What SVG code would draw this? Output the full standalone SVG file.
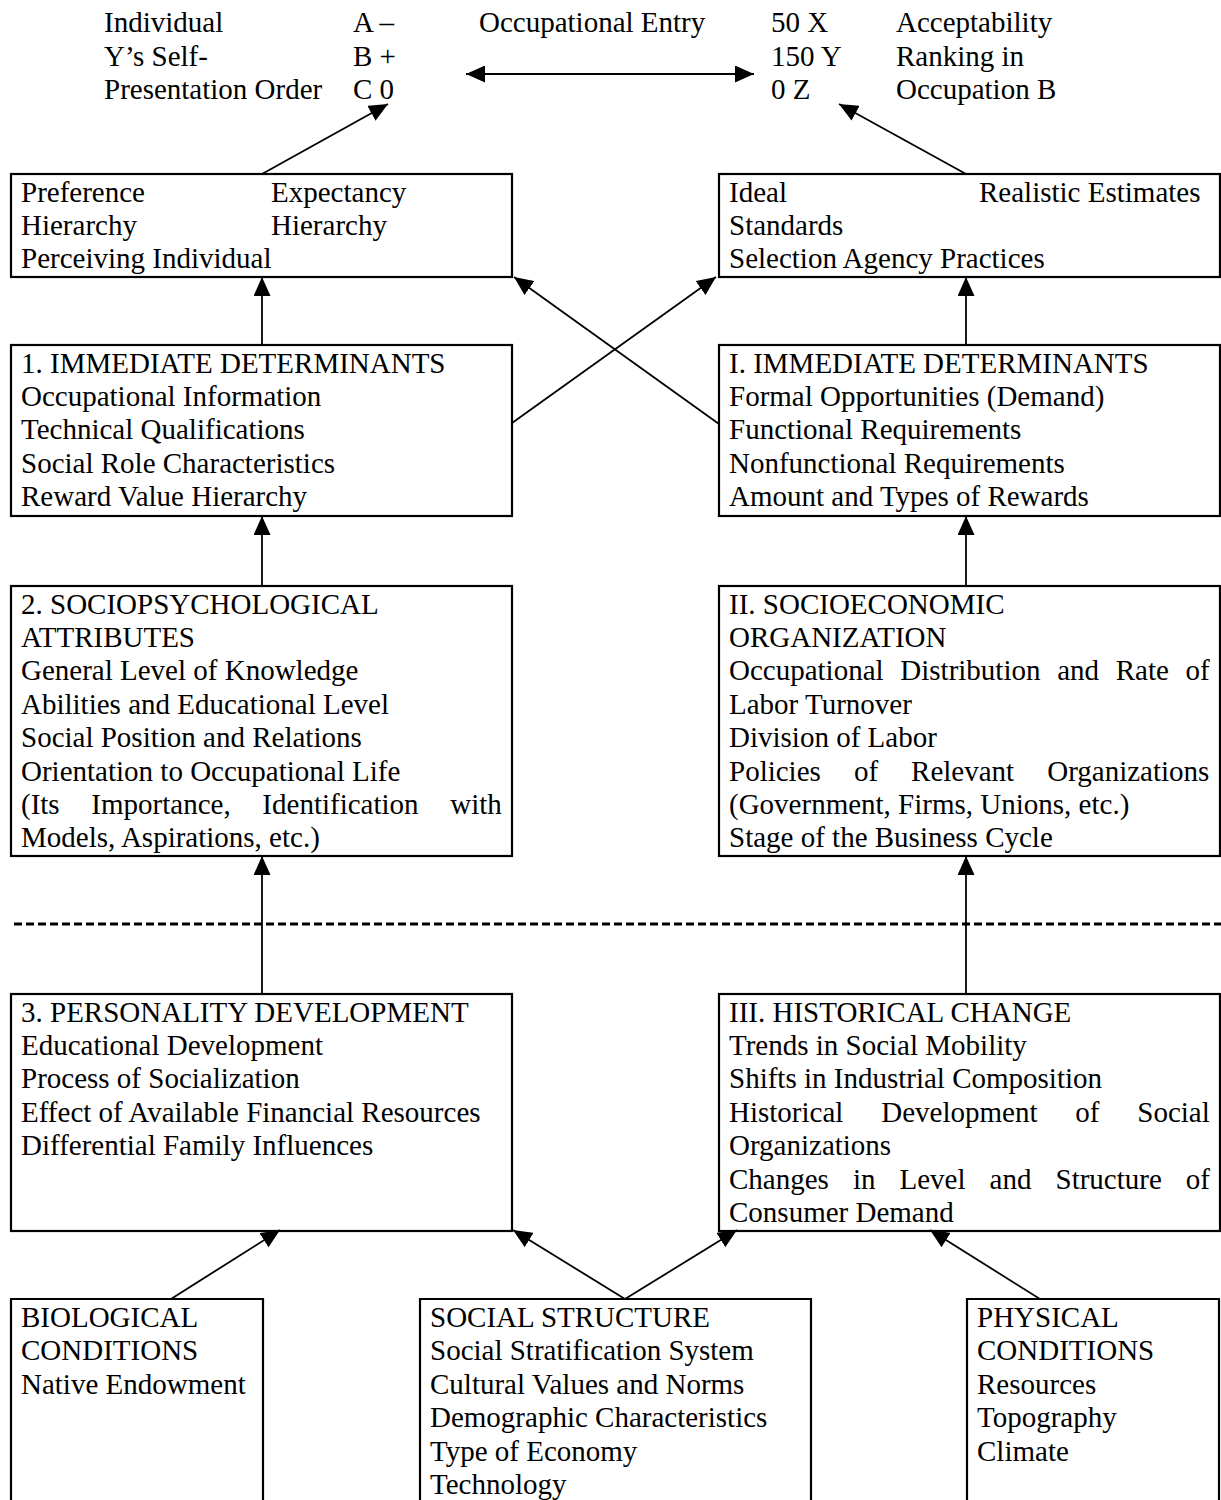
<svg xmlns="http://www.w3.org/2000/svg" width="1221" height="1500" viewBox="0 0 1221 1500">
<style>
text{font-family:"Liberation Serif","Times New Roman",serif;font-size:29px;fill:#000}
.box{fill:none;stroke:#000;stroke-width:2.2}
.con line{stroke:#000;stroke-width:1.8}
</style>
<defs>
<marker id="ah" viewBox="0 0 19 17" refX="19" refY="8.5" markerWidth="19" markerHeight="17" markerUnits="userSpaceOnUse" orient="auto-start-reverse">
<path d="M0,0 L19,8.5 L0,17 z" fill="#000"/>
</marker>
</defs>
<rect width="1221" height="1500" fill="#fff"/>

<g id="header">
<text x="104" y="32">Individual</text>
<text x="104" y="65.5">Y’s Self-</text>
<text x="104" y="99">Presentation Order</text>
<text x="353" y="32">A –</text>
<text x="353" y="65.5">B +</text>
<text x="353" y="99">C 0</text>
<text x="479" y="32">Occupational Entry</text>
<text x="771" y="32">50 X</text>
<text x="771" y="65.5">150 Y</text>
<text x="771" y="99">0 Z</text>
<text x="896" y="32">Acceptability</text>
<text x="896" y="65.5">Ranking in</text>
<text x="896" y="99">Occupation B</text>
</g>

<g id="preference">
<rect class="box" x="11" y="174" width="501" height="103"/>
<text x="21" y="201.5">Preference</text>
<text x="271" y="201.5">Expectancy</text>
<text x="21" y="234.5">Hierarchy</text>
<text x="271" y="234.5">Hierarchy</text>
<text x="21" y="267.5">Perceiving Individual</text>
</g>

<g id="ideal">
<rect class="box" x="719" y="174" width="501" height="103"/>
<text x="729" y="201.5">Ideal</text>
<text x="979" y="201.5">Realistic Estimates</text>
<text x="729" y="234.5">Standards</text>
<text x="729" y="267.5">Selection Agency Practices</text>
</g>

<g id="immediate-left">
<rect class="box" x="11" y="345" width="501" height="171"/>
<text x="21" y="372.5">1. IMMEDIATE DETERMINANTS</text>
<text x="21" y="405.9">Occupational Information</text>
<text x="21" y="439.3">Technical Qualifications</text>
<text x="21" y="472.7">Social Role Characteristics</text>
<text x="21" y="506.1">Reward Value Hierarchy</text>
</g>

<g id="immediate-right">
<rect class="box" x="719" y="345" width="501" height="171"/>
<text x="729" y="372.5">I. IMMEDIATE DETERMINANTS</text>
<text x="729" y="405.9">Formal Opportunities (Demand)</text>
<text x="729" y="439.3">Functional Requirements</text>
<text x="729" y="472.7">Nonfunctional Requirements</text>
<text x="729" y="506.1">Amount and Types of Rewards</text>
</g>

<g id="sociopsych">
<rect class="box" x="11" y="586" width="501" height="270"/>
<text x="21" y="613.5">2. SOCIOPSYCHOLOGICAL</text>
<text x="21" y="646.9">ATTRIBUTES</text>
<text x="21" y="680.3">General Level of Knowledge</text>
<text x="21" y="713.7">Abilities and Educational Level</text>
<text x="21" y="747.1">Social Position and Relations</text>
<text x="21" y="780.5">Orientation to Occupational Life</text>
<text x="21" y="813.9" style="word-spacing:24.45px">(Its Importance, Identification with</text>
<text x="21" y="847.3">Models, Aspirations, etc.)</text>
</g>

<g id="socioeconomic">
<rect class="box" x="719" y="586" width="501" height="270"/>
<text x="729" y="613.5">II. SOCIOECONOMIC</text>
<text x="729" y="646.9">ORGANIZATION</text>
<text x="729" y="680.3" style="word-spacing:9.45px">Occupational Distribution and Rate of</text>
<text x="729" y="713.7">Labor Turnover</text>
<text x="729" y="747.1">Division of Labor</text>
<text x="729" y="780.5" style="word-spacing:25.8px">Policies of Relevant Organizations</text>
<text x="729" y="813.9">(Government, Firms, Unions, etc.)</text>
<text x="729" y="847.3">Stage of the Business Cycle</text>
</g>

<g id="personality">
<rect class="box" x="11" y="994" width="501" height="237"/>
<text x="21" y="1021.6">3. PERSONALITY DEVELOPMENT</text>
<text x="21" y="1055">Educational Development</text>
<text x="21" y="1088.4">Process of Socialization</text>
<text x="21" y="1121.8">Effect of Available Financial Resources</text>
<text x="21" y="1155.2">Differential Family Influences</text>
</g>

<g id="historical">
<rect class="box" x="719" y="994" width="501" height="237"/>
<text x="729" y="1021.6">III. HISTORICAL CHANGE</text>
<text x="729" y="1055">Trends in Social Mobility</text>
<text x="729" y="1088.4">Shifts in Industrial Composition</text>
<text x="729" y="1121.8" style="word-spacing:30.6px">Historical Development of Social</text>
<text x="729" y="1155.2">Organizations</text>
<text x="729" y="1188.6" style="word-spacing:16.8px">Changes in Level and Structure of</text>
<text x="729" y="1222">Consumer Demand</text>
</g>

<g id="biological">
<path class="box" d="M11,1502 V1299 H263 V1502"/>
<text x="21" y="1327">BIOLOGICAL</text>
<text x="21" y="1360.4">CONDITIONS</text>
<text x="21" y="1393.8">Native Endowment</text>
</g>

<g id="social-structure">
<path class="box" d="M420,1502 V1299 H811 V1502"/>
<text x="430" y="1327">SOCIAL STRUCTURE</text>
<text x="430" y="1360.4">Social Stratification System</text>
<text x="430" y="1393.8">Cultural Values and Norms</text>
<text x="430" y="1427.2">Demographic Characteristics</text>
<text x="430" y="1460.6">Type of Economy</text>
<text x="430" y="1494">Technology</text>
</g>

<g id="physical">
<path class="box" d="M967,1502 V1299 H1219 V1502"/>
<text x="977" y="1327">PHYSICAL</text>
<text x="977" y="1360.4">CONDITIONS</text>
<text x="977" y="1393.8">Resources</text>
<text x="977" y="1427.2">Topography</text>
<text x="977" y="1460.6">Climate</text>
</g>

<line id="divider" x1="14" y1="924" x2="1221" y2="924" stroke="#000" stroke-width="3" stroke-dasharray="8 4"/>

<g class="con" id="connectors">
<line x1="466" y1="74" x2="754" y2="74" marker-start="url(#ah)" marker-end="url(#ah)"/>
<line x1="262" y1="174" x2="388" y2="104" marker-end="url(#ah)"/>
<line x1="966" y1="174" x2="839" y2="104" marker-end="url(#ah)"/>
<line x1="262" y1="345" x2="262" y2="277" marker-end="url(#ah)"/>
<line x1="966" y1="345" x2="966" y2="277" marker-end="url(#ah)"/>
<line x1="512" y1="423" x2="716" y2="277" marker-end="url(#ah)"/>
<line x1="719" y1="424" x2="514" y2="277" marker-end="url(#ah)"/>
<line x1="262" y1="586" x2="262" y2="516" marker-end="url(#ah)"/>
<line x1="966" y1="586" x2="966" y2="516" marker-end="url(#ah)"/>
<line x1="262" y1="994" x2="262" y2="856" marker-end="url(#ah)"/>
<line x1="966" y1="994" x2="966" y2="856" marker-end="url(#ah)"/>
<line x1="171" y1="1299" x2="280" y2="1230" marker-end="url(#ah)"/>
<line x1="625" y1="1299" x2="513" y2="1230" marker-end="url(#ah)"/>
<line x1="625" y1="1299" x2="737" y2="1230" marker-end="url(#ah)"/>
<line x1="1040" y1="1299" x2="930" y2="1230" marker-end="url(#ah)"/>
</g>
</svg>
